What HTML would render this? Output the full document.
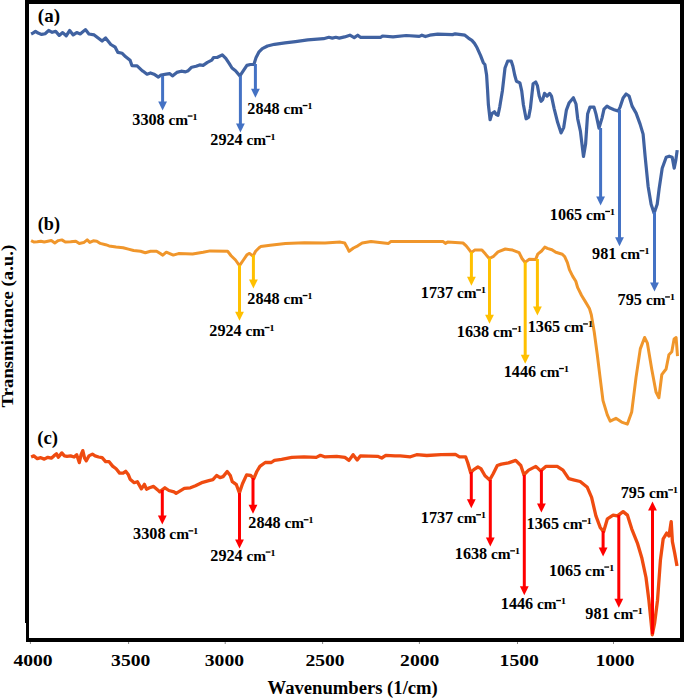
<!DOCTYPE html><html><head><meta charset="utf-8"><style>html,body{margin:0;padding:0;background:#fff;}svg{display:block;}text{font-family:"Liberation Serif",serif;font-weight:bold;fill:#000;}.lb{font-size:15.4px;} .tk{font-size:17.3px;} .pl{font-size:17.8px;}</style></head><body>
<svg width="685" height="698" viewBox="0 0 685 698">
<rect width="685" height="698" fill="#fff"/>
<polyline points="31.1,34.0 32.9,33.1 35.5,31.4 38.1,33.1 41.6,34.4 45.1,33.7 48.7,30.5 52.2,32.3 55.7,31.4 59.2,35.4 62.7,32.6 66.2,35.8 69.7,30.5 73.2,34.9 76.7,32.6 80.2,34.0 85.4,29.6 88.9,34.0 94.2,34.9 102.1,41.0 105.6,37.9 110.8,44.5 115.2,47.2 117.9,52.4 122.2,53.3 125.7,56.8 130.1,60.3 131.9,65.6 137.1,65.9 142.4,70.8 143.5,71.5 147.0,74.2 150.5,72.9 154.0,74.2 158.4,77.1 161.0,75.0 166.3,74.2 169.8,73.6 172.4,75.9 176.8,72.4 181.2,71.2 185.5,71.9 188.2,70.7 191.7,67.2 196.1,66.3 199.6,64.9 203.1,65.4 207.4,62.4 211.8,60.1 213.6,57.5 217.1,57.5 222.3,54.9 225.8,58.4 229.3,63.7 232.0,68.0 235.5,70.7 239.9,75.9 243.4,70.7 246.9,65.4 250.4,64.5 253.9,64.5 256.1,57.4 258.8,52.2 262.3,48.7 267.5,46.0 274.5,44.3 285.0,42.9 295.5,41.6 307.8,39.9 323.6,38.7 328.8,37.3 332.3,38.1 335.8,37.3 339.3,38.1 344.6,36.9 349.9,35.2 354.2,37.6 357.7,35.2 360.4,37.3 370.0,37.3 380.8,37.3 382.5,36.0 393.0,36.9 406.2,35.5 419.3,36.4 421.9,35.2 425.4,36.6 429.8,35.2 437.7,34.1 452.6,34.6 455.2,33.8 464.9,35.2 468.4,38.1 471.9,40.4 474.5,43.4 477.1,47.8 480.6,55.7 483.3,62.7 484.9,64.5 486.6,75.0 487.5,89.1 488.4,104.8 490.1,119.7 491.9,113.6 494.5,111.8 496.3,114.5 498.0,115.3 499.8,106.6 502.4,90.8 505.0,68.0 507.7,61.0 511.2,61.0 512.9,66.3 514.7,75.0 516.4,81.2 519.9,82.9 521.7,90.8 523.4,104.8 526.1,118.8 528.7,117.1 530.4,108.3 533.1,83.8 535.7,82.0 537.4,85.6 539.2,96.1 541.0,101.3 542.7,99.6 544.5,93.4 547.1,96.1 549.7,93.4 551.5,96.1 554.1,108.3 557.6,122.3 561.1,132.9 563.7,127.6 566.4,110.1 569.0,103.1 573.4,97.8 576.0,104.0 577.7,118.8 580.4,131.1 582.1,145.1 583.5,156.5 585.6,144.1 587.6,114.1 590.0,107.1 594.0,107.1 596.0,114.1 599.0,128.1 602.0,118.1 604.0,109.1 607.0,106.1 610.1,108.1 614.1,109.7 618.1,111.1 620.1,107.1 623.1,98.0 626.1,94.0 629.1,96.0 632.1,106.1 636.1,113.1 640.1,124.1 643.1,134.1 645.1,156.2 648.1,186.2 651.1,204.2 654.1,213.3 657.2,204.2 659.2,188.2 662.2,168.2 666.2,157.2 669.2,156.2 672.2,157.2 674.2,168.2 675.8,160.2 677.2,150.1" fill="none" stroke="#4062a1" stroke-width="3.2" stroke-linejoin="round" stroke-linecap="butt"/>
<polyline points="31.1,240.6 33.8,242.0 37.3,241.7 40.8,241.2 44.3,242.0 47.8,241.2 51.3,240.6 54.8,242.9 58.3,240.6 61.8,239.9 65.3,242.0 70.6,241.7 75.8,241.2 79.3,243.4 83.7,242.6 87.2,239.9 89.8,242.4 93.3,240.8 96.8,241.2 100.3,243.4 105.6,244.7 109.1,245.9 116.1,247.0 123.1,247.7 128.4,249.1 133.6,250.5 140.6,251.2 145.3,252.7 150.5,251.3 156.6,251.3 162.8,255.1 166.3,252.2 173.3,255.1 178.5,253.6 192.6,253.9 203.1,252.2 210.1,250.9 227.6,251.3 231.1,255.7 235.5,260.0 239.5,265.6 243.4,260.0 246.9,254.8 249.5,253.4 253.0,256.2 255.6,251.3 259.1,247.8 260.7,246.6 270.2,245.3 285.4,243.4 304.4,242.8 325.0,243.0 340.3,242.1 344.7,243.0 346.9,246.9 349.1,251.3 353.5,248.0 357.8,245.8 362.2,243.0 371.0,241.6 388.5,243.4 390.7,241.6 443.2,241.6 445.4,243.4 447.6,242.1 463.0,243.0 466.2,245.8 468.0,248.2 471.4,252.6 474.6,250.1 481.9,250.1 485.5,254.1 489.2,258.5 493.6,256.3 498.0,251.9 505.3,249.0 512.6,250.1 519.1,252.6 522.0,258.5 525.0,262.4 529.3,259.2 535.6,259.6 537.7,254.2 541.6,251.0 544.8,247.1 547.4,248.4 551.9,249.7 555.8,252.3 562.3,254.2 564.8,256.8 567.4,262.6 569.4,269.7 572.6,276.1 575.8,281.3 577.7,287.7 581.6,295.5 585.5,301.9 589.4,308.4 591.3,314.8 592.6,322.6 594.2,331.7 597.3,354.7 600.1,377.6 603.0,400.6 607.3,414.9 610.2,421.2 615.9,418.3 621.6,422.1 627.4,424.1 631.7,412.0 636.0,377.6 640.3,348.9 644.6,337.5 647.4,343.2 651.7,369.0 656.0,392.0 658.9,397.7 661.8,374.7 666.1,369.0 668.9,354.7 671.8,351.8 674.1,338.9 676.1,337.5 677.5,356.1" fill="none" stroke="#f0962b" stroke-width="3.0" stroke-linejoin="round" stroke-linecap="butt"/>
<polyline points="31.1,457.0 33.8,455.9 37.3,458.7 40.8,457.7 44.3,459.1 47.8,457.3 51.3,458.2 53.9,455.9 56.5,453.8 58.3,457.3 61.8,452.9 64.4,455.9 67.0,456.4 70.6,455.9 74.1,457.0 76.7,454.7 79.3,462.6 81.1,454.7 82.8,450.6 84.6,458.2 86.3,460.8 88.9,455.9 92.4,454.1 95.1,455.9 98.6,457.0 102.1,457.7 105.6,461.7 109.1,461.7 112.6,466.1 116.1,468.7 119.6,473.1 123.1,473.1 125.7,471.3 128.4,474.8 130.1,479.2 134.2,482.7 137.3,481.7 141.4,488.8 144.4,484.3 146.5,489.2 149.5,487.8 153.6,486.4 157.7,489.9 159.7,491.9 164.9,487.8 168.9,490.5 174.0,491.9 176.1,493.3 180.2,490.9 184.3,488.4 190.4,487.8 195.5,485.8 202.7,482.3 208.8,480.7 212.9,479.6 216.6,475.5 220.0,477.6 223.1,476.6 227.2,471.5 230.3,475.5 232.3,481.7 236.4,484.7 239.4,492.9 242.5,483.7 246.6,474.9 250.7,475.5 253.8,478.6 256.8,471.5 259.9,466.3 265.2,462.5 271.3,462.5 274.4,460.4 281.6,459.4 291.8,457.4 304.0,456.8 316.3,457.4 320.4,455.3 324.5,456.8 336.7,456.3 344.9,457.4 349.0,460.4 353.1,454.7 357.2,460.0 360.3,455.9 377.6,456.3 381.7,458.0 385.8,455.3 395.0,455.9 400.2,455.9 410.4,456.8 416.6,454.7 426.8,455.5 441.1,454.7 455.4,454.3 459.5,456.8 465.6,456.8 467.7,462.5 470.7,472.7 473.8,469.6 477.9,467.0 480.9,468.6 485.0,475.8 489.7,479.9 493.2,473.7 497.3,465.5 501.4,464.1 508.5,462.9 515.7,460.4 520.8,465.5 523.9,474.7 528.6,470.1 535.8,466.4 540.6,470.9 545.8,466.4 557.2,466.4 563.0,470.1 568.7,478.7 574.4,480.1 580.2,481.5 587.3,487.3 591.6,497.3 595.9,515.9 600.2,527.4 603.6,531.7 607.4,518.8 613.1,515.1 617.4,515.9 623.1,511.6 627.4,515.1 631.7,528.8 637.4,543.1 641.7,557.4 646.0,577.5 648.9,600.4 651.2,623.3 652.3,634.8 654.6,623.3 657.5,600.4 660.4,560.3 663.2,538.8 666.7,533.1 669.0,536.0 671.2,521.6 672.4,541.7 674.7,553.1 677.0,566.0" fill="none" stroke="#ef4b10" stroke-width="3.3" stroke-linejoin="round" stroke-linecap="butt"/>
<line x1="162.6" y1="76" x2="162.6" y2="102.4" stroke="#4472c4" stroke-width="3"/><polygon points="158.2,101.4 167.0,101.4 162.6,110.4" fill="#4472c4"/>
<line x1="240.4" y1="76" x2="240.4" y2="124.6" stroke="#4472c4" stroke-width="3"/><polygon points="236.0,123.6 244.8,123.6 240.4,132.6" fill="#4472c4"/>
<line x1="255.4" y1="64" x2="255.4" y2="89.8" stroke="#4472c4" stroke-width="3"/><polygon points="251.0,88.8 259.8,88.8 255.4,97.8" fill="#4472c4"/>
<line x1="600.6" y1="128" x2="600.6" y2="197.5" stroke="#4472c4" stroke-width="3"/><polygon points="596.2,196.5 605.0,196.5 600.6,205.5" fill="#4472c4"/>
<line x1="619.5" y1="110" x2="619.5" y2="238.3" stroke="#4472c4" stroke-width="3"/><polygon points="615.1,237.3 623.9,237.3 619.5,246.3" fill="#4472c4"/>
<line x1="654.5" y1="212" x2="654.5" y2="283.6" stroke="#4472c4" stroke-width="3"/><polygon points="650.1,282.6 658.9,282.6 654.5,291.6" fill="#4472c4"/>
<line x1="239.5" y1="265" x2="239.5" y2="312.8" stroke="#ffc000" stroke-width="3"/><polygon points="235.1,311.8 243.9,311.8 239.5,320.8" fill="#ffc000"/>
<line x1="253.4" y1="255" x2="253.4" y2="280.4" stroke="#ffc000" stroke-width="3"/><polygon points="249.0,279.4 257.8,279.4 253.4,288.4" fill="#ffc000"/>
<line x1="471.4" y1="252" x2="471.4" y2="277.7" stroke="#ffc000" stroke-width="3"/><polygon points="467.0,276.7 475.79999999999995,276.7 471.4,285.7" fill="#ffc000"/>
<line x1="489.5" y1="258" x2="489.5" y2="315.8" stroke="#ffc000" stroke-width="3"/><polygon points="485.1,314.8 493.9,314.8 489.5,323.8" fill="#ffc000"/>
<line x1="525.2" y1="262" x2="525.2" y2="355.8" stroke="#ffc000" stroke-width="3"/><polygon points="520.8000000000001,354.8 529.6,354.8 525.2,363.8" fill="#ffc000"/>
<line x1="537.4" y1="259" x2="537.4" y2="307.4" stroke="#ffc000" stroke-width="3"/><polygon points="533.0,306.4 541.8,306.4 537.4,315.4" fill="#ffc000"/>
<line x1="162.3" y1="490" x2="162.3" y2="516.6" stroke="#ff0000" stroke-width="3"/><polygon points="157.9,515.6 166.70000000000002,515.6 162.3,524.6" fill="#ff0000"/>
<line x1="239.5" y1="493" x2="239.5" y2="540.4" stroke="#ff0000" stroke-width="3"/><polygon points="235.1,539.4 243.9,539.4 239.5,548.4" fill="#ff0000"/>
<line x1="253" y1="478" x2="253" y2="505.79999999999995" stroke="#ff0000" stroke-width="3"/><polygon points="248.6,504.79999999999995 257.4,504.79999999999995 253,513.8" fill="#ff0000"/>
<line x1="471.3" y1="472" x2="471.3" y2="500.2" stroke="#ff0000" stroke-width="3"/><polygon points="466.90000000000003,499.2 475.7,499.2 471.3,508.2" fill="#ff0000"/>
<line x1="490.3" y1="480" x2="490.3" y2="538.4" stroke="#ff0000" stroke-width="3"/><polygon points="485.90000000000003,537.4 494.7,537.4 490.3,546.4" fill="#ff0000"/>
<line x1="524.3" y1="475" x2="524.3" y2="587.2" stroke="#ff0000" stroke-width="3"/><polygon points="519.9,586.2 528.6999999999999,586.2 524.3,595.2" fill="#ff0000"/>
<line x1="541.4" y1="470" x2="541.4" y2="504.6" stroke="#ff0000" stroke-width="3"/><polygon points="537.0,503.6 545.8,503.6 541.4,512.6" fill="#ff0000"/>
<line x1="603.1" y1="531" x2="603.1" y2="548.5" stroke="#ff0000" stroke-width="3"/><polygon points="598.7,547.5 607.5,547.5 603.1,556.5" fill="#ff0000"/>
<line x1="618.8" y1="515" x2="618.8" y2="599.7" stroke="#ff0000" stroke-width="3"/><polygon points="614.4,598.7 623.1999999999999,598.7 618.8,607.7" fill="#ff0000"/>
<line x1="652.5" y1="634" x2="652.5" y2="509.5" stroke="#ff0000" stroke-width="3"/><polygon points="648.1,510.5 656.9,510.5 652.5,501.5" fill="#ff0000"/>
<text x="132.3" y="124.5" class="lb" style="font-size:16.2px" textLength="32.4" lengthAdjust="spacingAndGlyphs">3308</text><text x="168.5" y="124.5" class="lb">cm</text><rect x="187.7" y="115.4" width="4.8" height="1.3" fill="#000"/><text x="192.3" y="119.5" font-size="8.8" textLength="5.4" lengthAdjust="spacingAndGlyphs">1</text>
<text x="210.3" y="144.9" class="lb" style="font-size:16.2px" textLength="32.4" lengthAdjust="spacingAndGlyphs">2924</text><text x="246.5" y="144.9" class="lb">cm</text><rect x="265.7" y="135.8" width="4.8" height="1.3" fill="#000"/><text x="270.3" y="139.9" font-size="8.8" textLength="5.4" lengthAdjust="spacingAndGlyphs">1</text>
<text x="247.3" y="114.0" class="lb" style="font-size:16.2px" textLength="32.4" lengthAdjust="spacingAndGlyphs">2848</text><text x="283.5" y="114.0" class="lb">cm</text><rect x="302.7" y="104.9" width="4.8" height="1.3" fill="#000"/><text x="307.3" y="109.0" font-size="8.8" textLength="5.4" lengthAdjust="spacingAndGlyphs">1</text>
<text x="549.8" y="219.9" class="lb" style="font-size:16.2px" textLength="32.4" lengthAdjust="spacingAndGlyphs">1065</text><text x="586.0" y="219.9" class="lb">cm</text><rect x="605.2" y="210.8" width="4.8" height="1.3" fill="#000"/><text x="609.8" y="214.9" font-size="8.8" textLength="5.4" lengthAdjust="spacingAndGlyphs">1</text>
<text x="592.1" y="259.2" class="lb" style="font-size:16.2px" textLength="24.3" lengthAdjust="spacingAndGlyphs">981</text><text x="620.4" y="259.2" class="lb">cm</text><rect x="639.6" y="250.1" width="4.8" height="1.3" fill="#000"/><text x="644.2" y="254.2" font-size="8.8" textLength="5.4" lengthAdjust="spacingAndGlyphs">1</text>
<text x="617.6" y="305.4" class="lb" style="font-size:16.2px" textLength="24.3" lengthAdjust="spacingAndGlyphs">795</text><text x="645.9" y="305.4" class="lb">cm</text><rect x="665.1" y="296.3" width="4.8" height="1.3" fill="#000"/><text x="669.7" y="300.4" font-size="8.8" textLength="5.4" lengthAdjust="spacingAndGlyphs">1</text>
<text x="209.3" y="336.0" class="lb" style="font-size:16.2px" textLength="32.4" lengthAdjust="spacingAndGlyphs">2924</text><text x="245.5" y="336.0" class="lb">cm</text><rect x="264.7" y="326.9" width="4.8" height="1.3" fill="#000"/><text x="269.3" y="331.0" font-size="8.8" textLength="5.4" lengthAdjust="spacingAndGlyphs">1</text>
<text x="247.3" y="304.0" class="lb" style="font-size:16.2px" textLength="32.4" lengthAdjust="spacingAndGlyphs">2848</text><text x="283.5" y="304.0" class="lb">cm</text><rect x="302.7" y="294.9" width="4.8" height="1.3" fill="#000"/><text x="307.3" y="299.0" font-size="8.8" textLength="5.4" lengthAdjust="spacingAndGlyphs">1</text>
<text x="420.8" y="298.4" class="lb" style="font-size:16.2px" textLength="32.4" lengthAdjust="spacingAndGlyphs">1737</text><text x="457.0" y="298.4" class="lb">cm</text><rect x="476.2" y="289.3" width="4.8" height="1.3" fill="#000"/><text x="480.8" y="293.4" font-size="8.8" textLength="5.4" lengthAdjust="spacingAndGlyphs">1</text>
<text x="456.8" y="337.3" class="lb" style="font-size:16.2px" textLength="32.4" lengthAdjust="spacingAndGlyphs">1638</text><text x="493.0" y="337.3" class="lb">cm</text><rect x="512.2" y="328.2" width="4.8" height="1.3" fill="#000"/><text x="516.8" y="332.3" font-size="8.8" textLength="5.4" lengthAdjust="spacingAndGlyphs">1</text>
<text x="503.7" y="377.0" class="lb" style="font-size:16.2px" textLength="32.4" lengthAdjust="spacingAndGlyphs">1446</text><text x="539.9" y="377.0" class="lb">cm</text><rect x="559.1" y="367.9" width="4.8" height="1.3" fill="#000"/><text x="563.7" y="372.0" font-size="8.8" textLength="5.4" lengthAdjust="spacingAndGlyphs">1</text>
<text x="527.7" y="332.4" class="lb" style="font-size:16.2px" textLength="32.4" lengthAdjust="spacingAndGlyphs">1365</text><text x="563.9" y="332.4" class="lb">cm</text><rect x="583.1" y="323.3" width="4.8" height="1.3" fill="#000"/><text x="587.7" y="327.4" font-size="8.8" textLength="5.4" lengthAdjust="spacingAndGlyphs">1</text>
<text x="133.1" y="539.3" class="lb" style="font-size:16.2px" textLength="32.4" lengthAdjust="spacingAndGlyphs">3308</text><text x="169.3" y="539.3" class="lb">cm</text><rect x="188.5" y="530.2" width="4.8" height="1.3" fill="#000"/><text x="193.1" y="534.3" font-size="8.8" textLength="5.4" lengthAdjust="spacingAndGlyphs">1</text>
<text x="210.3" y="560.5" class="lb" style="font-size:16.2px" textLength="32.4" lengthAdjust="spacingAndGlyphs">2924</text><text x="246.5" y="560.5" class="lb">cm</text><rect x="265.7" y="551.4" width="4.8" height="1.3" fill="#000"/><text x="270.3" y="555.5" font-size="8.8" textLength="5.4" lengthAdjust="spacingAndGlyphs">1</text>
<text x="248.3" y="528.2" class="lb" style="font-size:16.2px" textLength="32.4" lengthAdjust="spacingAndGlyphs">2848</text><text x="284.5" y="528.2" class="lb">cm</text><rect x="303.7" y="519.1" width="4.8" height="1.3" fill="#000"/><text x="308.3" y="523.2" font-size="8.8" textLength="5.4" lengthAdjust="spacingAndGlyphs">1</text>
<text x="420.8" y="523.2" class="lb" style="font-size:16.2px" textLength="32.4" lengthAdjust="spacingAndGlyphs">1737</text><text x="457.0" y="523.2" class="lb">cm</text><rect x="476.2" y="514.1" width="4.8" height="1.3" fill="#000"/><text x="480.8" y="518.2" font-size="8.8" textLength="5.4" lengthAdjust="spacingAndGlyphs">1</text>
<text x="454.8" y="559.3" class="lb" style="font-size:16.2px" textLength="32.4" lengthAdjust="spacingAndGlyphs">1638</text><text x="491.0" y="559.3" class="lb">cm</text><rect x="510.2" y="550.2" width="4.8" height="1.3" fill="#000"/><text x="514.8" y="554.3" font-size="8.8" textLength="5.4" lengthAdjust="spacingAndGlyphs">1</text>
<text x="500.8" y="609.0" class="lb" style="font-size:16.2px" textLength="32.4" lengthAdjust="spacingAndGlyphs">1446</text><text x="537.0" y="609.0" class="lb">cm</text><rect x="556.2" y="599.9" width="4.8" height="1.3" fill="#000"/><text x="560.8" y="604.0" font-size="8.8" textLength="5.4" lengthAdjust="spacingAndGlyphs">1</text>
<text x="526.6" y="529.4" class="lb" style="font-size:16.2px" textLength="32.4" lengthAdjust="spacingAndGlyphs">1365</text><text x="562.8" y="529.4" class="lb">cm</text><rect x="582.0" y="520.3" width="4.8" height="1.3" fill="#000"/><text x="586.6" y="524.4" font-size="8.8" textLength="5.4" lengthAdjust="spacingAndGlyphs">1</text>
<text x="548.9" y="575.5" class="lb" style="font-size:16.2px" textLength="32.4" lengthAdjust="spacingAndGlyphs">1065</text><text x="585.1" y="575.5" class="lb">cm</text><rect x="604.3" y="566.4" width="4.8" height="1.3" fill="#000"/><text x="608.9" y="570.5" font-size="8.8" textLength="5.4" lengthAdjust="spacingAndGlyphs">1</text>
<text x="585.3" y="619.3" class="lb" style="font-size:16.2px" textLength="24.3" lengthAdjust="spacingAndGlyphs">981</text><text x="613.6" y="619.3" class="lb">cm</text><rect x="632.8" y="610.2" width="4.8" height="1.3" fill="#000"/><text x="637.4" y="614.3" font-size="8.8" textLength="5.4" lengthAdjust="spacingAndGlyphs">1</text>
<text x="620.7" y="498.3" class="lb" style="font-size:16.2px" textLength="24.3" lengthAdjust="spacingAndGlyphs">795</text><text x="649.0" y="498.3" class="lb">cm</text><rect x="668.2" y="489.2" width="4.8" height="1.3" fill="#000"/><text x="672.8" y="493.3" font-size="8.8" textLength="5.4" lengthAdjust="spacingAndGlyphs">1</text>
<rect x="25" y="0" width="4" height="623" fill="#000"/>
<rect x="26" y="622" width="3" height="20" fill="#000"/>
<rect x="25" y="0" width="659" height="4" fill="#000"/>
<rect x="680" y="0" width="4" height="642" fill="#000"/>
<rect x="26" y="638" width="658" height="4" fill="#000"/>
<rect x="29.9" y="642" width="1" height="2" fill="#888"/>
<text x="33.0" y="665.7" text-anchor="middle" class="tk" textLength="39.2" lengthAdjust="spacingAndGlyphs">4000</text>
<rect x="128.1" y="642" width="1" height="2" fill="#888"/>
<text x="130.7" y="665.7" text-anchor="middle" class="tk" textLength="39.2" lengthAdjust="spacingAndGlyphs">3500</text>
<rect x="224.7" y="642" width="1" height="2" fill="#888"/>
<text x="224.4" y="665.7" text-anchor="middle" class="tk" textLength="39.2" lengthAdjust="spacingAndGlyphs">3000</text>
<rect x="322.1" y="642" width="1" height="2" fill="#888"/>
<text x="325.0" y="665.7" text-anchor="middle" class="tk" textLength="39.2" lengthAdjust="spacingAndGlyphs">2500</text>
<rect x="418.9" y="642" width="1" height="2" fill="#888"/>
<text x="419.7" y="665.7" text-anchor="middle" class="tk" textLength="39.2" lengthAdjust="spacingAndGlyphs">2000</text>
<rect x="517.0" y="642" width="1" height="2" fill="#888"/>
<text x="519.2" y="665.7" text-anchor="middle" class="tk" textLength="39.2" lengthAdjust="spacingAndGlyphs">1500</text>
<rect x="613.0" y="642" width="1" height="2" fill="#888"/>
<text x="615.0" y="665.7" text-anchor="middle" class="tk" textLength="39.2" lengthAdjust="spacingAndGlyphs">1000</text>
<text x="37.8" y="22.4" class="pl" textLength="22.2" lengthAdjust="spacingAndGlyphs">(a)</text>
<text x="37.8" y="229.8" class="pl" textLength="22.2" lengthAdjust="spacingAndGlyphs">(b)</text>
<text x="37.2" y="443.6" class="pl" textLength="20.8" lengthAdjust="spacingAndGlyphs">(c)</text>
<text x="267.6" y="693.7" style="font-size:18px" textLength="170.2" lengthAdjust="spacingAndGlyphs">Wavenumbers (1/cm)</text>
<text transform="translate(13,407.4) rotate(-90)" style="font-size:17.4px" textLength="162.6" lengthAdjust="spacingAndGlyphs">Transmittance (a.u.)</text>
</svg></body></html>
